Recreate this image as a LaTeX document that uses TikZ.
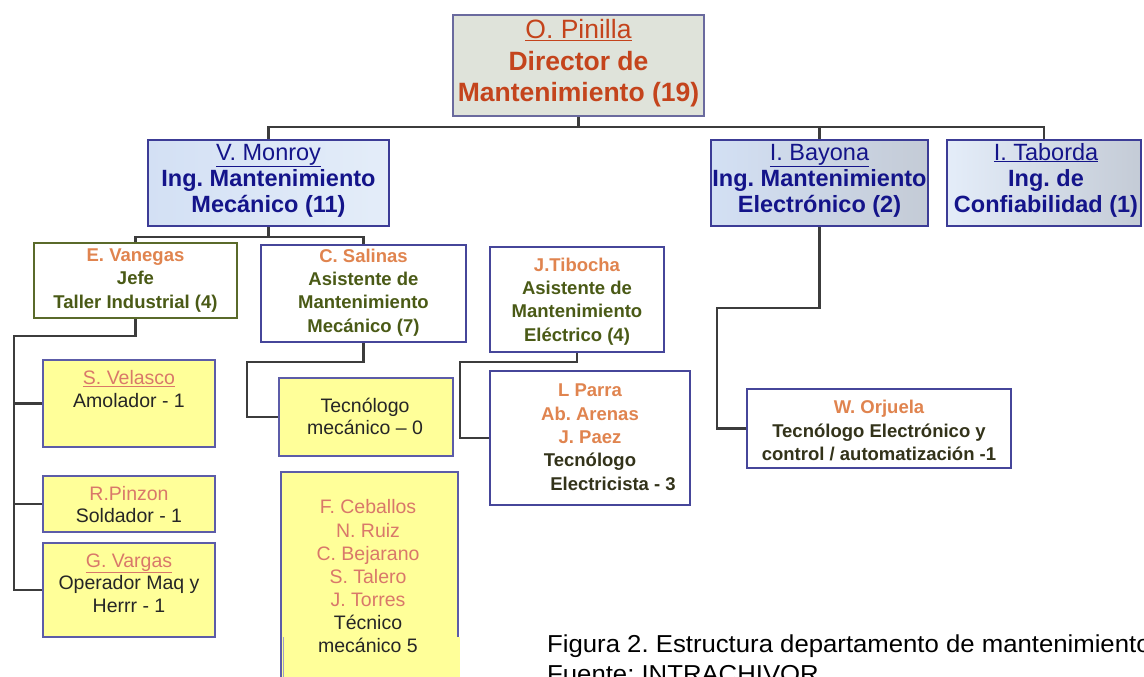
\documentclass[tikz,border=0pt]{standalone}
\usepackage{fontspec}
\setmainfont{Liberation Sans}
\newfontfamily\capfont[FakeStretch=1.05]{Liberation Sans}

\definecolor{conngray}{HTML}{3C3C3C}
\definecolor{dirfill}{HTML}{DFE3DA}
\definecolor{dirborder}{HTML}{6A6A9E}
\definecolor{dirred}{HTML}{C4441C}
\definecolor{engborder}{HTML}{3C3C96}
\definecolor{engleft}{HTML}{D3E0F4}
\definecolor{engright}{HTML}{E4EDF9}
\definecolor{enggray}{HTML}{C4CBD6}
\definecolor{engblue}{HTML}{14148A}
\definecolor{olivebd}{HTML}{5A6A2A}
\definecolor{bluebd}{HTML}{46469A}
\definecolor{namegold}{HTML}{E0844F}
\definecolor{olivetext}{HTML}{4A5A16}
\definecolor{darkolive}{HTML}{33331A}
\definecolor{yfill}{HTML}{FFFF99}
\definecolor{ybd}{HTML}{5C5CA8}
\definecolor{salmon}{HTML}{D9786A}
\definecolor{ytext}{HTML}{262626}

\begin{document}
\frenchspacing
\begin{tikzpicture}[x=1pt,y=-1pt,
  conn/.style={draw=conngray, line width=2.2pt},
  box/.style={rectangle, inner sep=0pt, line width=1.6pt},
  dirbox/.style={box, draw=dirborder, fill=dirfill},
  engbox/.style={box, draw=engborder, left color=engleft, right color=engright},
  olivebox/.style={box, draw=olivebd, fill=white},
  bluebox/.style={box, draw=bluebd, fill=white},
  ybox/.style={box, draw=ybd, fill=yfill},
  % texts are placed by the baseline of their last line
  txt/.style={anchor=base, align=center, inner sep=0pt},
  dirtxt/.style={txt, text=dirred, font=\fontsize{26.5}{31.5}\selectfont},
  engtxt/.style={txt, text=engblue, font=\fontsize{23.5}{26}\selectfont},
  olivetxt/.style={txt, text=olivetext, font=\fontsize{18.5}{23.3}\selectfont\bfseries},
  ytxt/.style={txt, text=ytext, font=\fontsize{19.5}{22.8}\selectfont},
]
\useasboundingbox (0,0) rectangle (1144,677);
\clip (0,0) rectangle (1144,677);

% ---- boxes ----
\node[dirbox, minimum width=251pt, minimum height=101pt] (pinilla) at (578.5,65.5) {};
\node[engbox, minimum width=241pt, minimum height=86pt] (monroy) at (268.5,183) {};
\node[engbox, left color=engleft, right color=enggray, minimum width=217pt, minimum height=86pt] (bayona) at (819.5,183) {};
\node[engbox, left color=engright, right color=enggray, minimum width=194pt, minimum height=86pt] (taborda) at (1044,183) {};

\node[olivebox, minimum width=203pt, minimum height=75pt] (vanegas) at (135.5,280.5) {};
\node[bluebox, minimum width=205pt, minimum height=97pt] (salinas) at (363.5,293.5) {};
\node[bluebox, minimum width=174pt, minimum height=105pt] (tibocha) at (577,299.5) {};
\node[bluebox, minimum width=200pt, minimum height=134pt] (parra) at (590,438) {};
\node[bluebox, minimum width=264pt, minimum height=79pt] (orjuela) at (879,428.5) {};

\node[ybox, minimum width=172pt, minimum height=87pt] (velasco) at (129,403.5) {};
\node[ybox, minimum width=172pt, minimum height=56pt] (pinzon) at (129,504) {};
\node[ybox, minimum width=172pt, minimum height=94pt] (vargas) at (129,590) {};
\node[ybox, minimum width=174pt, minimum height=78pt] (tecmec) at (366,417) {};
\node[ybox, minimum width=177pt, minimum height=228pt] (ceballos) at (369.5,586) {};
% lower part of the last yellow box, pasted without its right border
\fill[yfill] (283,637) rectangle (460,700);
\draw[ybd!60, line width=1pt] (283.5,637) -- (283.5,700);

% ---- connectors ----
\draw[conn] (pinilla.south) -- ++(0,10.5) coordinate (bus);
\draw[conn] (monroy.north) |- (bus) -| (taborda.north);
\draw[conn] (bus -| bayona.north) -- (bayona.north);

\draw[conn] (monroy.south) -- ++(0,10) coordinate (mbus);
\draw[conn] (vanegas.north) |- (mbus) -| (salinas.north);

\coordinate (vspine) at (14,336);
\draw[conn] (vanegas.south) |- (vspine) |- (vargas.west);
\draw[conn] (vspine |- velasco.west) -- (velasco.west);
\draw[conn] (vspine |- pinzon.west) -- (pinzon.west);

\coordinate (sbend) at (247,362);
\draw[conn] (salinas.south) |- (sbend) |- (tecmec.west);

\coordinate (tbend) at (460,362);
\draw[conn] (tibocha.south) |- (tbend) |- (parra.west);

\coordinate (bbend) at (717,308);
\draw[conn] (bayona.south) |- (bbend) |- (orjuela.west);

% ---- texts ----
\node[dirtxt] (pinilla-t) at (578.5,102) {\underline{O. Pinilla}\\\textbf{Director de}\\\textbf{Mantenimiento (19)}};
\node[engtxt] (monroy-t) at (268.5,212) {\underline{V. Monroy}\\\textbf{Ing. Mantenimiento}\\\textbf{Mecánico (11)}};
\node[engtxt] (bayona-t) at (819.5,212) {\underline{I. Bayona}\\\textbf{Ing. Mantenimiento}\\\textbf{Electrónico (2)}};
\node[engtxt] (taborda-t) at (1046,212) {\underline{I. Taborda}\\\textbf{Ing. de}\\\textbf{Confiabilidad (1)}};

\node[olivetxt] (vanegas-t) at (135.5,308) {\textcolor{namegold}{E. Vanegas}\\Jefe\\Taller Industrial (4)};
\node[olivetxt] (salinas-t) at (363.5,332) {\textcolor{namegold}{C. Salinas}\\Asistente de\\Mantenimiento\\Mecánico (7)};
\node[olivetxt] (tibocha-t) at (577,341) {\textcolor{namegold}{J.Tibocha}\\Asistente de\\Mantenimiento\\Eléctrico (4)};
\node[olivetxt, text=darkolive] (parra-t) at (590,490) {\textcolor{namegold}{L Parra}\\\textcolor{namegold}{Ab. Arenas}\\\textcolor{namegold}{J. Paez}\\Tecnólogo\\\hspace*{46pt}Electricista - 3};
\node[olivetxt, text=darkolive] (orjuela-t) at (879,460.5) {\textcolor{namegold}{W. Orjuela}\\Tecnólogo Electrónico y\\control / automatización -1};

\node[ytxt] (velasco-t) at (129,407) {\textcolor{salmon}{\underline{S. Velasco}}\\Amolador - 1};
\node[ytxt] (pinzon-t) at (129,522.8) {\textcolor{salmon}{R.Pinzon}\\Soldador - 1};
\node[ytxt] (vargas-t) at (129,612.6) {\textcolor{salmon}{\underline{G. Vargas}}\\Operador Maq y\\Herrr - 1};
\node[ytxt] (tecmec-t) at (365,434.8) {Tecnólogo\\mecánico – 0};
\node[ytxt, font=\fontsize{19.5}{23.1}\selectfont] (ceballos-t) at (368,652.5) {\textcolor{salmon}{F. Ceballos}\\\textcolor{salmon}{N. Ruiz}\\\textcolor{salmon}{C. Bejarano}\\\textcolor{salmon}{S. Talero}\\\textcolor{salmon}{J. Torres}\\Técnico\\mecánico 5};

\node[anchor=base west, align=left, inner sep=0pt, font=\capfont\fontsize{24.5}{30}\selectfont] (caption) at (547,682) {Figura 2. Estructura departamento de mantenimiento\\Fuente: INTRACHIVOR};
\end{tikzpicture}
\end{document}
